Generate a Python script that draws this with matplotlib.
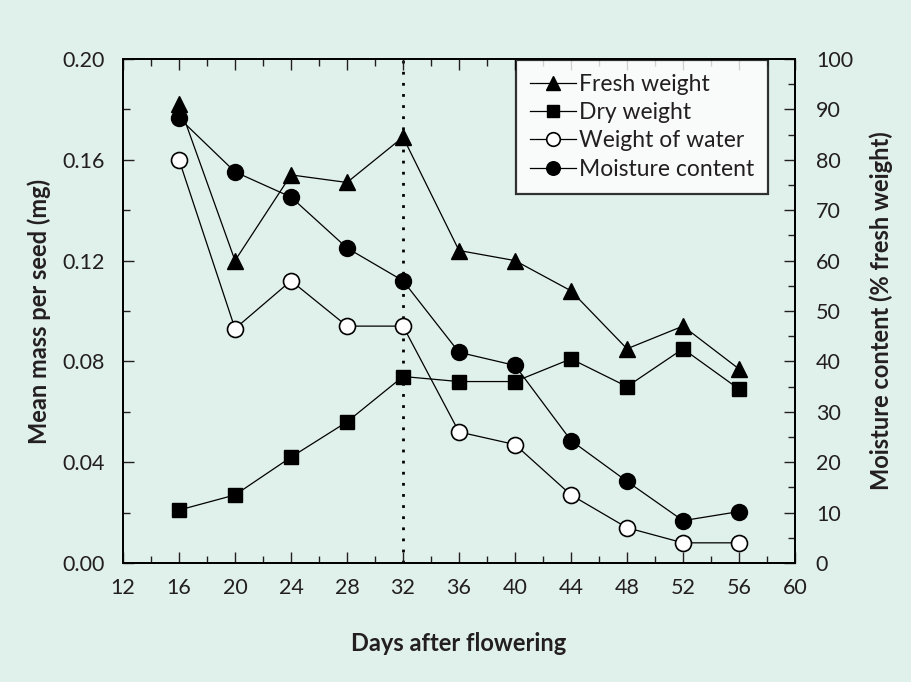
import matplotlib.pyplot as plt
from matplotlib.ticker import MultipleLocator, FormatStrFormatter

# --------------------------------------
# DATA
# --------------------------------------

days = [16, 20, 24, 28, 32, 36, 40, 44, 48, 52, 56]
fresh_weight = [0.182, 0.120, 0.154, 0.151, 0.169, 0.124, 0.120, 0.108, 0.085, 0.094, 0.077]
dry_weight = [0.021, 0.027, 0.042, 0.056, 0.074, 0.072, 0.072, 0.081, 0.070, 0.085, 0.069]
water_weight = [0.160, 0.093, 0.112, 0.094, 0.094, 0.052, 0.047, 0.027, 0.014, 0.008, 0.008]
moisture = [88.3, 77.6, 72.6, 62.5, 56.0, 41.8, 39.2, 24.3, 16.2, 8.4, 10.2]
x_ticks = list(range(12, 61, 4))

# --------------------------------------
# STYLE
# --------------------------------------

plt.rcParams["font.family"] = ["Lato", "DejaVu Sans"]
bg = "#e0f0ea"
ink = "#231f20"

fig = plt.figure(figsize=(9.12, 6.82), dpi=100, facecolor=bg)
ax = fig.add_axes([0.1349, 0.1745, 0.7368, 0.739])
ax2 = ax.twinx()

ax.set_zorder(ax2.get_zorder() + 1)
ax.patch.set_visible(False)
ax2.patch.set_facecolor("white")

# --------------------------------------
# PLOT
# --------------------------------------

ax.axvline(32, color="black", linestyle=(0, (1, 3)), linewidth=2, zorder=1)

line_kw = dict(color="black", linewidth=0.9, markeredgecolor="black")
h1, = ax.plot(days, fresh_weight, marker="^", markersize=12, markerfacecolor="black",
              label="Fresh weight", **line_kw)
h2, = ax.plot(days, dry_weight, marker="s", markersize=10.5, markerfacecolor="black",
              label="Dry weight", **line_kw)
h3, = ax.plot(days, water_weight, marker="o", markersize=11.5, markerfacecolor="white",
              markeredgewidth=1.2, label="Weight of water", **line_kw)
h4, = ax.plot(days, [m * 0.002 for m in moisture], marker="o", markersize=11.5,
              markerfacecolor="black", label="Moisture content", **line_kw)

# --------------------------------------
# AXES
# --------------------------------------

ax.set_xlim(12, 60)
ax.set_ylim(0, 0.2)
ax2.set_ylim(0, 100)

ax.set_xticks(x_ticks)
ax.xaxis.set_minor_locator(MultipleLocator(2))
ax.yaxis.set_major_locator(MultipleLocator(0.04))
ax.yaxis.set_minor_locator(MultipleLocator(0.02))
ax.yaxis.set_major_formatter(FormatStrFormatter("%.2f"))
ax2.yaxis.set_major_locator(MultipleLocator(10))
ax2.yaxis.set_minor_locator(MultipleLocator(5))

ax.tick_params(axis="both", which="both", direction="in", top=True, labelsize=15.5,
               colors=ink, width=1)
ax.tick_params(which="major", length=8)
ax.tick_params(axis="x", which="major", pad=11)
ax.tick_params(axis="y", which="major", pad=13)
ax.tick_params(which="minor", length=5)
ax.tick_params(axis="y", right=False)
ax2.tick_params(axis="y", which="both", direction="in", labelsize=15.5, colors=ink, width=1)
ax2.tick_params(which="major", length=8, pad=15)
ax2.tick_params(which="minor", length=5)

for a in (ax, ax2):
    for s in a.spines.values():
        s.set_linewidth(1.3)
        s.set_color("black")

ax.set_xlabel("Days after flowering", fontsize=17, fontweight="bold", color=ink, labelpad=24)
ax.set_ylabel("Mean mass per seed (mg)", fontsize=17, fontweight="bold", color=ink, labelpad=8)
ax2.set_ylabel("Moisture content (% fresh weight)", fontsize=17, fontweight="bold",
               color=ink, labelpad=12)

leg = ax.legend(handles=[h1, h2, h3, h4], loc="upper right", bbox_to_anchor=(0.96, 0.998),
                fontsize=16.5, frameon=True, fancybox=False, edgecolor="black",
                handlelength=2.0, handletextpad=0.15, borderpad=0.6, labelspacing=0.32,
                borderaxespad=0.0, markerscale=0.85)
leg.get_frame().set_linewidth(1.6)
for t in leg.get_texts():
    t.set_color(ink)

fig.savefig("out.png", dpi=100, facecolor=bg)
